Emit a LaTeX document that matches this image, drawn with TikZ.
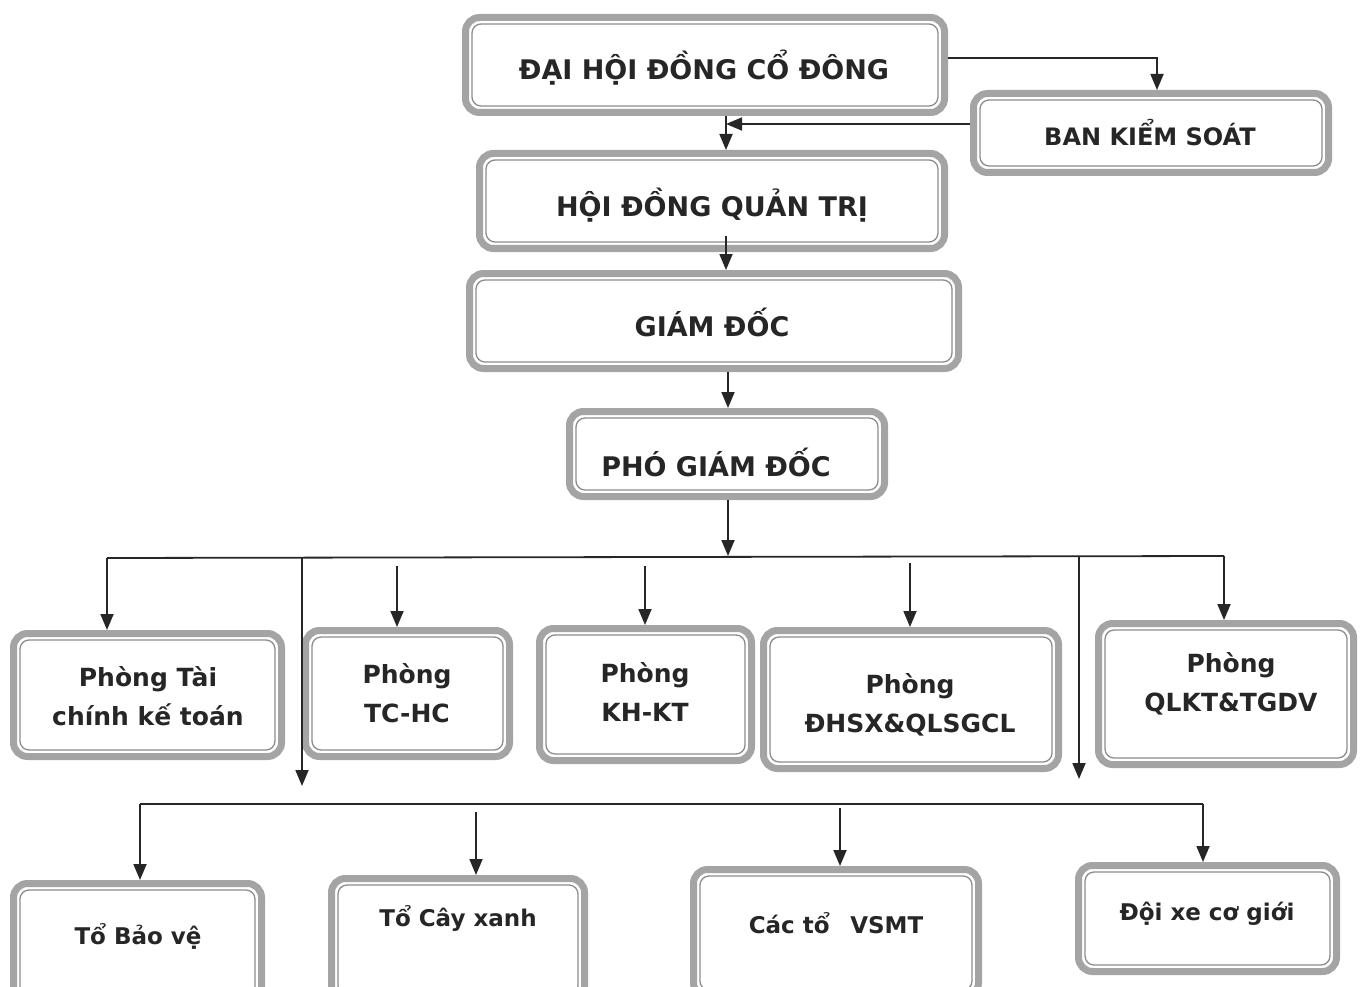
\documentclass[tikz,border=0pt]{standalone}
\usepackage{fontspec}
\setmainfont{DejaVu Sans}
\usetikzlibrary{arrows.meta,calc}
\definecolor{boxgray}{HTML}{A4A4A4}
\definecolor{innergray}{HTML}{8C8C8C}
\definecolor{txt}{HTML}{262626}
\definecolor{ln}{HTML}{262626}
\tikzset{
  box/.style={draw=boxgray, line width=7pt, rounded corners=14pt, fill=white, inner sep=0pt, outer sep=3.5pt},
  innerline/.style={draw=innergray, line width=1.3pt, rounded corners=9pt},
  lbl/.style={text=txt, align=center, inner sep=0pt},
  big/.style={font=\fontsize{27}{32}\selectfont\bfseries},
  mid/.style={font=\fontsize{25}{39}\selectfont\bfseries},
  small/.style={font=\fontsize{23}{28}\selectfont\bfseries},
  conn/.style={draw=ln, line width=1.8pt},
  arr/.style={conn, -{Triangle[width=13pt,length=16pt]}},
}
\newcommand\orgbox[5]{%
  \node[box, minimum width={#4-#2-7}, minimum height={#5-#3-7}] (#1) at ({(#2+#4)/2},{(#3+#5)/2}) {};
  \draw[innerline] ([shift={(10pt,-10pt)}]#1.north west) rectangle ([shift={(-10pt,10pt)}]#1.south east);
}
\begin{document}
\begin{tikzpicture}[x=1pt,y=-1pt]
\useasboundingbox (0,0) rectangle (1360,987);
\clip (0,0) rectangle (1360,987);
\fill[white] (0,0) rectangle (1360,987);

% boxes
\orgbox{dh}{462}{14}{948}{116}
\orgbox{bks}{970}{90}{1332}{176}
\orgbox{hd}{476}{150}{948}{252}
\orgbox{gd}{466}{270}{962}{372}
\orgbox{pgd}{566}{408}{888}{500}
\orgbox{p1}{10}{630}{285}{760}
\orgbox{p2}{302}{627}{513}{760}
\orgbox{p3}{536}{625}{755}{764}
\orgbox{p4}{760}{627}{1062}{772}
\orgbox{p5}{1095}{620}{1357}{768}
\orgbox{t1}{10}{880}{265}{1010}
\orgbox{t2}{328}{875}{588}{1005}
\orgbox{t3}{690}{866}{982}{1000}
\orgbox{t4}{1075}{862}{1340}{975}

% labels
\node[lbl,big] (dh-t) at (704,68) {ĐẠI HỘI ĐỒNG CỔ ĐÔNG};
\node[lbl,font=\fontsize{24}{28}\selectfont\bfseries] (bks-t) at (1150,133) {BAN KIỂM SOÁT};
\node[lbl,big] (hd-t) at (712,205) {HỘI ĐỒNG QUẢN TRỊ};
\node[lbl,big] (gd-t) at (712,322) {GIÁM ĐỐC};
\node[lbl,big] (pgd-t) at (716,462) {PHÓ GIÁM ĐỐC};
\node[lbl,mid] (p1-t) at (148,696) {Phòng Tài\\chính kế toán};
\node[lbl,mid] (p2-t) at (407,693) {Phòng\\TC-HC};
\node[lbl,mid] (p3-t) at (645,692) {Phòng\\KH-KT};
\node[lbl,mid] (p4-t) at (910,705) {Phòng\\ĐHSX\&QLSGCL};
\node[lbl,mid] (p5-t) at (1231,684) {Phòng\\QLKT\&TGDV};
\node[lbl,small] (t1-t) at (138,936) {Tổ Bảo vệ};
\node[lbl,small] (t2-t) at (458,918) {Tổ Cây xanh};
\node[lbl,small] (t3-t) at (836,923) {Các tổ\hspace{0.9em}VSMT};
\node[lbl,small] (t4-t) at (1207,914) {Đội xe cơ giới};

% junction coordinates
\coordinate (j1) at (726,124);
\coordinate (jh) at (726,236);
\coordinate (jb) at (1157,58);
\coordinate (bus) at (728,556);
\coordinate (bL) at (107,558);
\coordinate (bR) at (1224,556);
\coordinate (a2) at (397,566);
\coordinate (a3) at (645,566);
\coordinate (a4) at (910,563);
\coordinate (d1) at (302,557);
\coordinate (d1e) at (302,786);
\coordinate (d2) at (1079,556);
\coordinate (d2e) at (1079,779);
\coordinate (cL) at (140,804);
\coordinate (cR) at (1203,804);
\coordinate (c2) at (476,812);
\coordinate (c3) at (840,808);

% top connectors
\draw[arr] (dh.east |- jb) -- (jb) -- (bks.north -| jb);
\draw[arr] (bks.west |- j1) -- (j1);
\draw[arr] (dh.south -| j1) -- (hd.north -| j1);
\draw[arr] (jh) -- (gd.north -| jh);
\draw[arr] (gd.south -| bus) -- (pgd.north -| bus);
\draw[arr] (pgd.south -| bus) -- (bus);

% first bus
\draw[conn] (bL) -- (bR);
\draw[arr] (bL) -- (p1.north -| bL);
\draw[arr] (a2) -- (p2.north -| a2);
\draw[arr] (a3) -- (p3.north -| a3);
\draw[arr] (a4) -- (p4.north -| a4);
\draw[arr] (bR) -- (p5.north -| bR);
\draw[arr] (d1) -- (d1e);
\draw[arr] (d2) -- (d2e);

% second bus
\draw[conn] (cL) -- (cR);
\draw[arr] (cL) -- (t1.north -| cL);
\draw[arr] (c2) -- (t2.north -| c2);
\draw[arr] (c3) -- (t3.north -| c3);
\draw[arr] (cR) -- (t4.north -| cR);
\end{tikzpicture}
\end{document}
